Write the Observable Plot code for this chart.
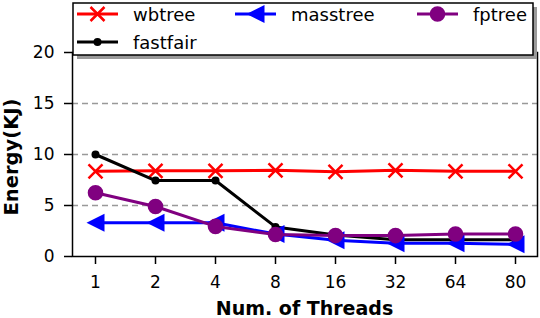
<!DOCTYPE html>
<html>
<head>
<meta charset="utf-8">
<script src="https://cdn.jsdelivr.net/npm/d3@7"></script>
<script src="https://cdn.jsdelivr.net/npm/@observablehq/plot@0.6"></script>
<style>
  html, body { margin: 0; padding: 0; background: white; }
  #chart svg { display: block; }
  #chart [aria-label^="x-axis"] line, #chart [aria-label^="x-axis"] path,
  #chart [aria-label^="y-axis"] line, #chart [aria-label^="y-axis"] path { stroke-width: 1.5px; }
</style>
</head>
<body>
<div id="chart"></div>
<script>
// ---- data ----
const threads = ["1", "2", "4", "8", "16", "32", "64", "80"];
const wbtree   = [8.35, 8.4, 8.4, 8.45, 8.3, 8.45, 8.35, 8.35];
const fastfair = [10.0, 7.45, 7.45, 2.9, 2.1, 1.65, 1.65, 1.65];
const masstree = [3.3, 3.3, 3.3, 2.2, 1.6, 1.3, 1.3, 1.2];
const fptree   = [6.25, 4.9, 2.95, 2.15, 2.05, 2.05, 2.2, 2.2];
const yTicks = [0, 5, 10, 15, 20];
const gridValues = [5, 10, 15, 20];
const xLabel = "Num. of Threads";
const yLabel = "Energy(KJ)";

// ---- symbols ----
const symX = {draw(ctx, size) { const r = Math.sqrt(size / Math.PI);
  ctx.moveTo(-r, -r); ctx.lineTo(r, r); ctx.moveTo(-r, r); ctx.lineTo(r, -r); }};
const symLeft = {draw(ctx, size) { const r = Math.sqrt(size / Math.PI);
  ctx.moveTo(-r, 0); ctx.lineTo(r, -r); ctx.lineTo(r, r); ctx.closePath(); }};
const symCircle = {draw(ctx, size) { const r = Math.sqrt(size / Math.PI);
  ctx.moveTo(r, 0); ctx.arc(0, 0, r, 0, 2 * Math.PI); }};

const series = [
  {name: "wbtree",   values: wbtree,   color: "#ff0000", symbol: symX,      r: 7,   stroked: true},
  {name: "fastfair", values: fastfair, color: "#000000", symbol: symCircle, r: 4,   stroked: false},
  {name: "masstree", values: masstree, color: "#0000ff", symbol: symLeft,   r: 9,   stroked: false},
  {name: "fptree",   values: fptree,   color: "#800080", symbol: symCircle, r: 7.8, stroked: false}
];
const legendOrder = ["wbtree", "masstree", "fptree", "fastfair"];

const rows = s => threads.map((t, i) => ({t, v: s.values[i]}));

const marks = [
  Plot.ruleY(gridValues, {stroke: "#999", strokeWidth: 1.5, strokeDasharray: "6,4"}),
  Plot.frame({stroke: "black", strokeWidth: 1.5})
];
for (const s of series) {
  marks.push(Plot.line(rows(s), {x: "t", y: "v", stroke: s.color, strokeWidth: 3}));
  marks.push(Plot.dot(rows(s), {x: "t", y: "v", r: s.r, symbol: s.symbol,
    fill: s.stroked ? "none" : s.color, stroke: s.color, strokeWidth: s.stroked ? 2.5 : 0}));
}

const chart = Plot.plot({
  width: 540, height: 318,
  marginLeft: 72, marginRight: 3, marginTop: 52, marginBottom: 62,
  style: {fontFamily: "DejaVu Sans", fontSize: "17px", color: "black", background: "white", overflow: "visible"},
  x: {type: "point", domain: threads, padding: 0.35, label: null, tickSize: 8, tickPadding: 11},
  y: {domain: [0, 20], ticks: yTicks, label: null, tickSize: 8, tickPadding: 10},
  marks
});
document.getElementById("chart").appendChild(chart);

// ---- axis labels and legend ----
const svg = d3.select(chart);
svg.append("text").attr("x", 304.5).attr("y", 315).attr("text-anchor", "middle")
  .attr("font-family", "DejaVu Sans").attr("font-weight", "bold").attr("font-size", 19)
  .attr("fill", "black").text(xLabel);
svg.append("text").attr("transform", "translate(17.5,157) rotate(-90)").attr("text-anchor", "middle")
  .attr("font-family", "DejaVu Sans").attr("font-weight", "bold").attr("font-size", 19.5)
  .attr("fill", "black").text(yLabel);

const lg = svg.append("g");
lg.append("rect").attr("x", 77).attr("y", 7).attr("width", 460).attr("height", 52).attr("fill", "#9a9a9a");
lg.append("rect").attr("x", 73).attr("y", 3).attr("width", 460).attr("height", 52)
  .attr("fill", "white").attr("stroke", "black").attr("stroke-width", 1.5);
const slots = [[77, 14], [235, 14], [417, 14], [77, 42]];
legendOrder.forEach((name, i) => {
  const s = series.find(d => d.name === name);
  const [x0, y0] = slots[i];
  lg.append("line").attr("x1", x0).attr("x2", x0 + 41).attr("y1", y0).attr("y2", y0)
    .attr("stroke", s.color).attr("stroke-width", 3);
  const p = d3.path(); s.symbol.draw(p, s.r * s.r * Math.PI);
  lg.append("path").attr("d", p.toString()).attr("transform", `translate(${x0 + 20.5},${y0})`)
    .attr("fill", s.stroked ? "none" : s.color).attr("stroke", s.color).attr("stroke-width", s.stroked ? 2.5 : 0);
  lg.append("text").attr("x", x0 + 56).attr("y", y0 + 6.5).attr("text-anchor", "start")
    .attr("font-family", "DejaVu Sans").attr("font-size", 18).attr("fill", "black").text(name);
});
</script>
</body>
</html>
